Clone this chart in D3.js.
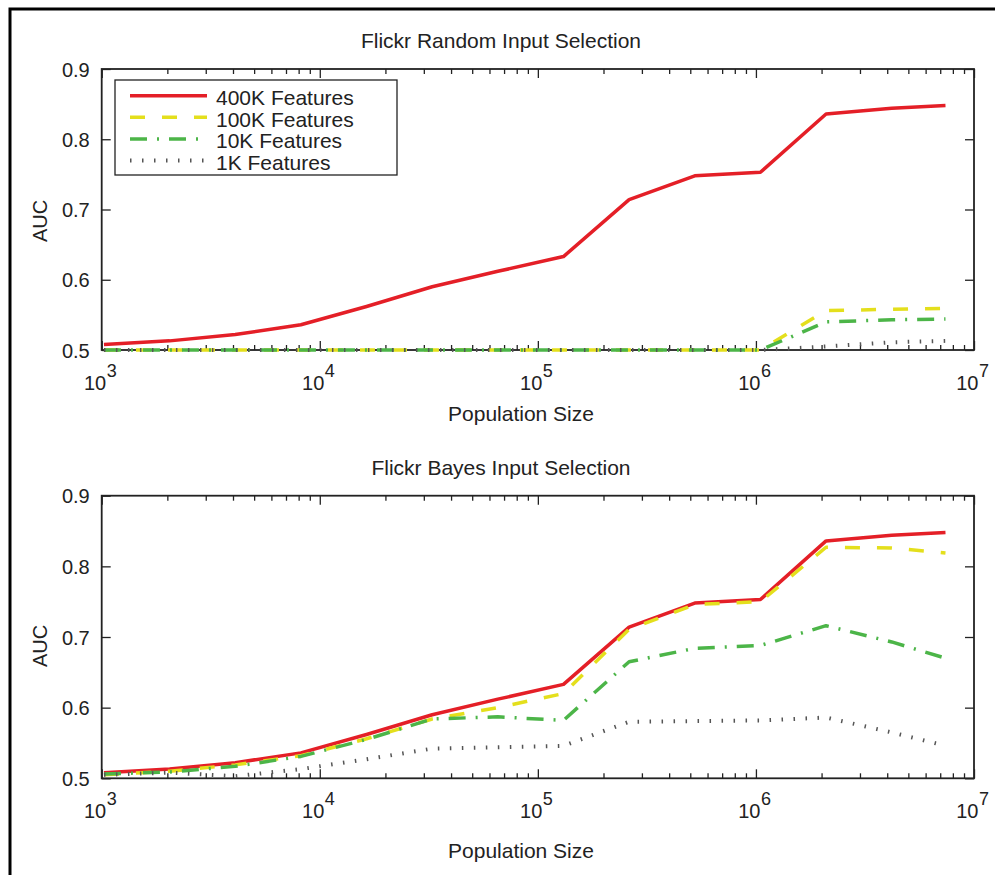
<!DOCTYPE html>
<html>
<head>
<meta charset="utf-8">
<script src="https://cdn.jsdelivr.net/npm/d3@7"></script>
<style>
  body { margin: 0; background: #fff; }
  svg text { font-family: "Liberation Sans", Arial, Helvetica, sans-serif; fill: #222; }
</style>
</head>
<body>
<svg id="chart" width="997" height="875"></svg>
<script>
// population sizes (x) - powers of two, last one is the whole set
var popSizes = [1024, 2048, 4096, 8192, 16384, 32768, 65536, 131072,
                262144, 524288, 1048576, 2097152, 4194304, 7400000];

var seriesNames = ["400K Features", "100K Features", "10K Features", "1K Features"];

// Flickr Random Input Selection
var random400K = [0.508, 0.513, 0.522, 0.536, 0.562, 0.590, 0.612, 0.633, 0.714, 0.748, 0.753, 0.836, 0.844, 0.848];
var random100K = [0.500, 0.500, 0.500, 0.500, 0.500, 0.500, 0.500, 0.500, 0.500, 0.500, 0.500, 0.556, 0.558, 0.559];
var random10K  = [0.500, 0.500, 0.500, 0.500, 0.500, 0.500, 0.500, 0.500, 0.500, 0.500, 0.500, 0.540, 0.543, 0.544];
var random1K   = [0.500, 0.500, 0.500, 0.500, 0.500, 0.500, 0.500, 0.500, 0.500, 0.500, 0.500, 0.505, 0.511, 0.513];

// Flickr Bayes Input Selection
var bayes400K = [0.508, 0.513, 0.522, 0.536, 0.562, 0.590, 0.612, 0.633, 0.714, 0.748, 0.753, 0.836, 0.844, 0.848];
var bayes100K = [0.505, 0.510, 0.519, 0.532, 0.556, 0.584, 0.600, 0.620, 0.711, 0.746, 0.750, 0.827, 0.826, 0.819];
var bayes10K  = [0.506, 0.509, 0.517, 0.531, 0.555, 0.584, 0.587, 0.582, 0.665, 0.684, 0.688, 0.716, 0.693, 0.670];
var bayes1K   = [0.505, 0.508, 0.503, 0.513, 0.527, 0.542, 0.544, 0.546, 0.580, 0.581, 0.582, 0.586, 0.565, 0.546];

var yTicks = [0.5, 0.6, 0.7, 0.8, 0.9];
var xExponents = [3, 4, 5, 6, 7];

// line look for each series, same order as seriesNames
var lineColors = ["#e41f27", "#e4df1c", "#4cb548", "#555555"];
var lineDashes = [null, "15,17", "17,10,2,10", "1.5,10.5"];
var lineWidths = [3.5, 3.5, 3.5, 4];

var svg = d3.select("#chart");

// figure frame (left + top edge)
svg.append("path")
  .attr("d", "M10,875V9H995")
  .attr("fill", "none")
  .attr("stroke", "#000")
  .attr("stroke-width", 3);

var x = d3.scaleLog().domain([1e3, 1e7]).range([101.7, 974]);

// minor ticks 2..9 of every decade
var minorTicks = [];
xExponents.slice(0, -1).forEach(function(e) {
  for (var k = 2; k < 10; k++) minorTicks.push(k * Math.pow(10, e));
});
var majorTicks = xExponents.map(function(e) { return Math.pow(10, e); });

function drawPanel(cfg) {
  var y = d3.scaleLinear().domain([0.5, 0.9]).range([cfg.bottom, cfg.top]);
  var g = svg.append("g");

  // ticks on all four sides, pointing inward
  var axes = [
    [d3.axisBottom(x), cfg.bottom, true],
    [d3.axisTop(x), cfg.top, true]
  ];
  axes.forEach(function(a) {
    g.append("g").attr("transform", "translate(0," + a[1] + ")")
      .call(a[0].tickValues(minorTicks).tickSize(-5).tickSizeOuter(0).tickFormat(""));
    g.append("g").attr("transform", "translate(0," + a[1] + ")")
      .call(a[0].tickValues(majorTicks).tickSize(-9).tickSizeOuter(0).tickFormat(""));
  });
  g.append("g").attr("transform", "translate(" + x.range()[0] + ",0)")
    .call(d3.axisLeft(y).tickValues(yTicks).tickSize(-9).tickSizeOuter(0)
      .tickPadding(12).tickFormat(d3.format(".1f")))
    .selectAll("text").attr("font-size", 20).attr("dy", "0.36em");
  g.append("g").attr("transform", "translate(" + x.range()[1] + ",0)")
    .call(d3.axisRight(y).tickValues(yTicks).tickSize(-9).tickSizeOuter(0).tickFormat(""));

  g.selectAll(".domain").remove();
  g.selectAll(".tick line").attr("stroke", "#222").attr("stroke-width", 1.3);
  g.selectAll(".tick text").attr("fill", "#222").attr("font-family", null);

  g.append("rect")
    .attr("x", x.range()[0]).attr("y", cfg.top)
    .attr("width", x.range()[1] - x.range()[0])
    .attr("height", cfg.bottom - cfg.top)
    .attr("fill", "none").attr("stroke", "#222").attr("stroke-width", 1.8);

  // 10^n labels
  var lab = g.selectAll(".xlab").data(xExponents).enter().append("g").attr("class", "xlab");
  lab.append("text")
    .attr("x", function(e) { return x(Math.pow(10, e)) + 4.5; })
    .attr("y", cfg.bottom + 40)
    .attr("text-anchor", "end")
    .attr("font-size", 20)
    .text("10");
  lab.append("text")
    .attr("x", function(e) { return x(Math.pow(10, e)) + 5; })
    .attr("y", cfg.bottom + 26.5)
    .attr("font-size", 18)
    .text(function(e) { return e; });

  g.append("text")
    .attr("x", 501).attr("y", cfg.titleY)
    .attr("text-anchor", "middle").attr("font-size", 21)
    .text(cfg.title);
  g.append("text")
    .attr("x", 521).attr("y", cfg.xLabelY)
    .attr("text-anchor", "middle").attr("font-size", 21)
    .text("Population Size");
  g.append("text")
    .attr("transform", "translate(47," + cfg.yLabelY + ") rotate(-90)")
    .attr("text-anchor", "middle").attr("font-size", 20)
    .text("AUC");

  var line = d3.line()
    .x(function(d) { return x(d[0]); })
    .y(function(d) { return y(d[1]); });

  cfg.series.forEach(function(vals, i) {
    g.append("path")
      .datum(d3.zip(popSizes, vals))
      .attr("d", line)
      .attr("fill", "none")
      .attr("stroke", lineColors[i])
      .attr("stroke-width", lineWidths[i])
      .attr("stroke-dasharray", lineDashes[i])
      .attr("stroke-linejoin", "round");
  });

  if (cfg.legend) {
    var lg = g.append("g");
    lg.append("rect")
      .attr("x", 115).attr("y", 80).attr("width", 282).attr("height", 95)
      .attr("fill", "#fff").attr("stroke", "#222").attr("stroke-width", 1.3);
    seriesNames.forEach(function(name, i) {
      var ly = 95.7 + i * 21.6;
      lg.append("line")
        .attr("x1", 130).attr("x2", 207).attr("y1", ly).attr("y2", ly)
        .attr("stroke", lineColors[i])
        .attr("stroke-width", lineWidths[i])
        .attr("stroke-dasharray", lineDashes[i]);
      lg.append("text")
        .attr("x", 216).attr("y", ly + 9.3)
        .attr("font-size", 21)
        .text(name);
    });
  }
}

drawPanel({
  top: 69, bottom: 350,
  title: "Flickr Random Input Selection",
  titleY: 48, xLabelY: 421, yLabelY: 221,
  series: [random400K, random100K, random10K, random1K],
  legend: true
});

drawPanel({
  top: 495.7, bottom: 778.3,
  title: "Flickr Bayes Input Selection",
  titleY: 475, xLabelY: 858, yLabelY: 646,
  series: [bayes400K, bayes100K, bayes10K, bayes1K],
  legend: false
});
</script>
</body>
</html>
